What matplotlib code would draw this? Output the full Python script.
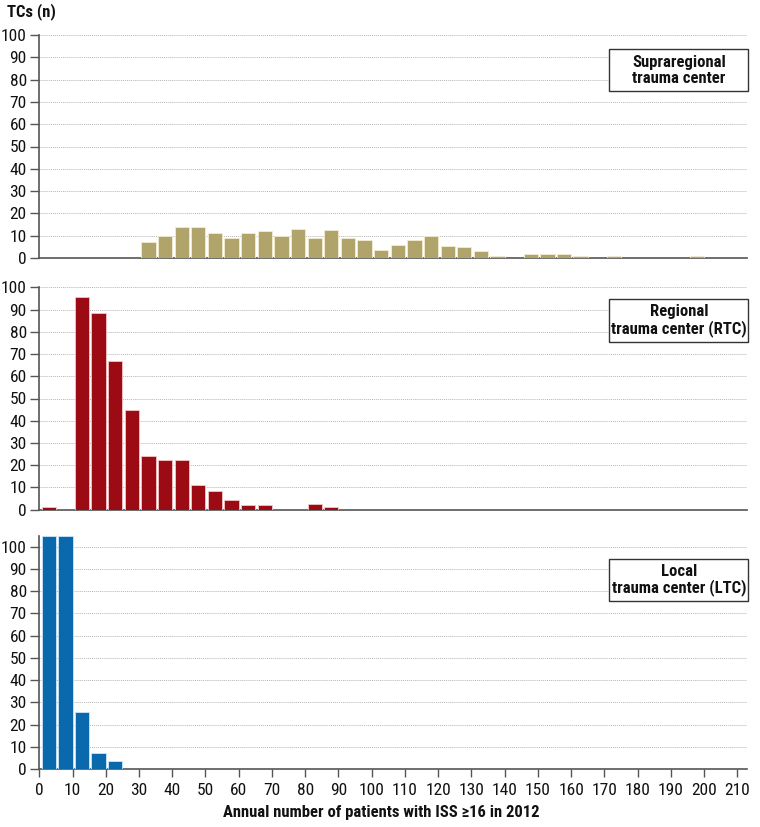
import matplotlib
matplotlib.use("Agg")
import matplotlib.pyplot as plt

plt.rcParams['font.family'] = ['Roboto Condensed', 'DejaVu Sans']

# Bin starts (width 5) and counts of trauma centers
supra_bins = [30, 35, 40, 45, 50, 55, 60, 65, 70, 75, 80, 85, 90, 95, 100,
              105, 110, 115, 120, 125, 130, 135, 145, 150, 155, 160, 170, 195]
supra_vals = [7, 10, 14, 14, 11, 9, 11, 12, 10, 13, 9, 12.5, 9, 8, 3.5,
              6, 8, 10, 5.5, 5, 3, 1, 2, 2, 2, 1, 1, 1]

regional_bins = [0, 10, 15, 20, 25, 30, 35, 40, 45, 50, 55, 60, 65, 80, 85]
regional_vals = [1.3, 95.5, 88.5, 67, 45, 24, 22.5, 22.5, 11.3, 8.3, 4.3, 2.2, 2.2, 2.5, 1.2]

local_bins = [0, 5, 10, 15, 20]
local_vals = [105, 105, 25.5, 7, 3.7]

panel_labels = ["Supraregional\ntrauma center",
                "Regional\ntrauma center (RTC)",
                "Local\ntrauma center (LTC)"]
colors = ["#b0a46b", "#9c0b13", "#0a69ad"]
edge_colors = ["#f3ecd2", "#f3c7c7", "#cfe6f7"]
ylims = [100, 100, 105]
x_ticks = list(range(0, 211, 10))
y_ticks = list(range(0, 101, 10))

W, H = 760, 827
fig = plt.figure(figsize=(W / 100, H / 100), dpi=100)

def fx(px):
    return px / W

def fy(py):
    return 1 - py / H

panels = [(258, 35), (509.7, 287.3), (769, 535.6)]
left_px, right_px = 39.3, 747.3
data = [(supra_bins, supra_vals), (regional_bins, regional_vals), (local_bins, local_vals)]
box_y = [(49.3, 91.3), (299.3, 341.7), (559, 601)]

for i, ((b, t), (bins, vals)) in enumerate(zip(panels, data)):
    ax = fig.add_axes([fx(left_px), fy(b), fx(right_px - left_px), (b - t) / H])
    ax.bar([x + 0.7 for x in bins], vals, width=4.3, align='edge',
           color=colors[i], edgecolor=edge_colors[i], linewidth=0.6, zorder=3)
    ax.set_xlim(0, 213)
    ax.set_ylim(0, ylims[i])
    ax.set_yticks(y_ticks)
    ax.grid(axis='y', linestyle=(0, (1, 1)), color='#b5b5b5', linewidth=0.7, zorder=0)
    for s in ['top', 'right']:
        ax.spines[s].set_visible(False)
    for s in ['left', 'bottom']:
        ax.spines[s].set_color('#555555')
        ax.spines[s].set_linewidth(1.2)
    ax.tick_params(axis='y', direction='out', length=6.5, width=1.0, color='#555555',
                   labelsize=12.5, pad=2.5, labelcolor='#111111')
    if i < 2:
        ax.tick_params(axis='x', bottom=False, labelbottom=False)
    else:
        ax.set_xticks(x_ticks)
        ax.tick_params(axis='x', direction='out', length=6, width=1.0, color='#555555',
                       labelsize=12.5, pad=4, labelcolor='#111111')
    # label box
    y0, y1 = box_y[i]
    bx0, bx1 = 609.3, 748.3
    fig.patches.append(plt.Rectangle((fx(bx0), fy(y1)), fx(bx1 - bx0), (y1 - y0) / H,
                                     transform=fig.transFigure, facecolor='white',
                                     edgecolor='#333333', linewidth=1.0, zorder=5))
    fig.text(fx((bx0 + bx1) / 2), fy((y0 + y1) / 2), panel_labels[i], ha='center',
             va='center', fontsize=12, fontweight='bold', color='#111111',
             linespacing=1.05, zorder=6)

fig.text(fx(7), fy(12), "TCs (n)", ha='left', va='center', fontsize=12,
         fontweight='bold', color='#111111')
fig.text(fx(381), fy(813), "Annual number of patients with ISS \u226516 in 2012",
         ha='center', va='center', fontsize=12, fontweight='bold', color='#111111')

fig.savefig("out.png", dpi=100)
